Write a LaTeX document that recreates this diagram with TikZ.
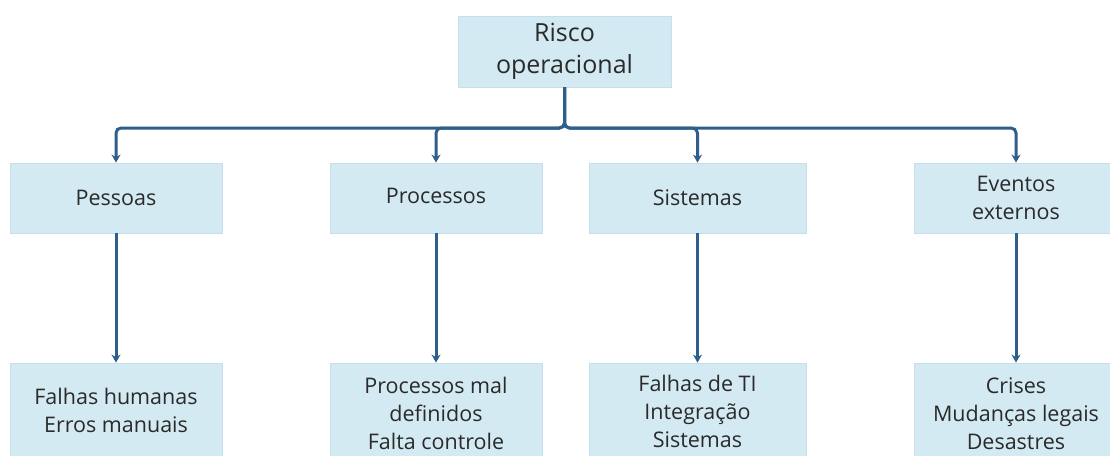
\documentclass[tikz,border=0pt]{standalone}
\usepackage{fontspec}
\setmainfont{Open Sans}
\usetikzlibrary{arrows.meta}
\definecolor{boxfill}{HTML}{D4EAF2}
\definecolor{boxedge}{HTML}{C6DFEA}
\definecolor{linecol}{HTML}{2E5E8A}
\definecolor{txt}{HTML}{2A2A2A}
\begin{document}
\begin{tikzpicture}[x=1pt,y=-1pt,
  box/.style={fill=boxfill,draw=boxedge,line width=0.8pt,inner sep=0pt,align=center,text=txt,font=\fontsize{21.5}{28}\selectfont},
  conn/.style={draw=linecol,line width=3pt,rounded corners=5pt,-{Stealth[length=8pt,width=9pt]}}]
\clip (0,0) rectangle (1110,455);
\useasboundingbox (0,0) rectangle (1110,455);
\node[box,minimum width=213pt,minimum height=71pt,font=\fontsize{25}{32}\selectfont] (top) at (564.5,51.5) {Risco\\operacional};
\node[box,minimum width=212pt,minimum height=70pt] (pes) at (116,198) {Pessoas};
\node[box,minimum width=212pt,minimum height=70pt] (pro) at (436,198) {\raisebox{4pt}{Processos}};
\node[box,minimum width=217pt,minimum height=70pt] (sis) at (697.5,198) {Sistemas};
\node[box,minimum width=204pt,minimum height=70pt] (eve) at (1016,198) {Eventos\\externos};
\node[box,minimum width=212pt,minimum height=94pt] (pes2) at (116,410) {Falhas humanas\\Erros manuais};
\node[box,minimum width=212pt,minimum height=100pt] (pro2) at (436,413) {Processos mal\\definidos\\Falta controle};
\node[box,minimum width=217pt,minimum height=96pt] (sis2) at (697.5,411) {Falhas de TI\\Integração\\Sistemas};
\node[box,minimum width=204pt,minimum height=102pt] (eve2) at (1016,414) {Crises\\Mudanças legais\\Desastres};
\coordinate (bus) at (565,128);
\foreach \n in {pes,pro,sis,eve}{
  \draw[conn] (top.south) -- (top.south |- bus) -| (\n.north);
  \draw[conn] (\n.south) -- (\n2.north);
}
\end{tikzpicture}
\end{document}
